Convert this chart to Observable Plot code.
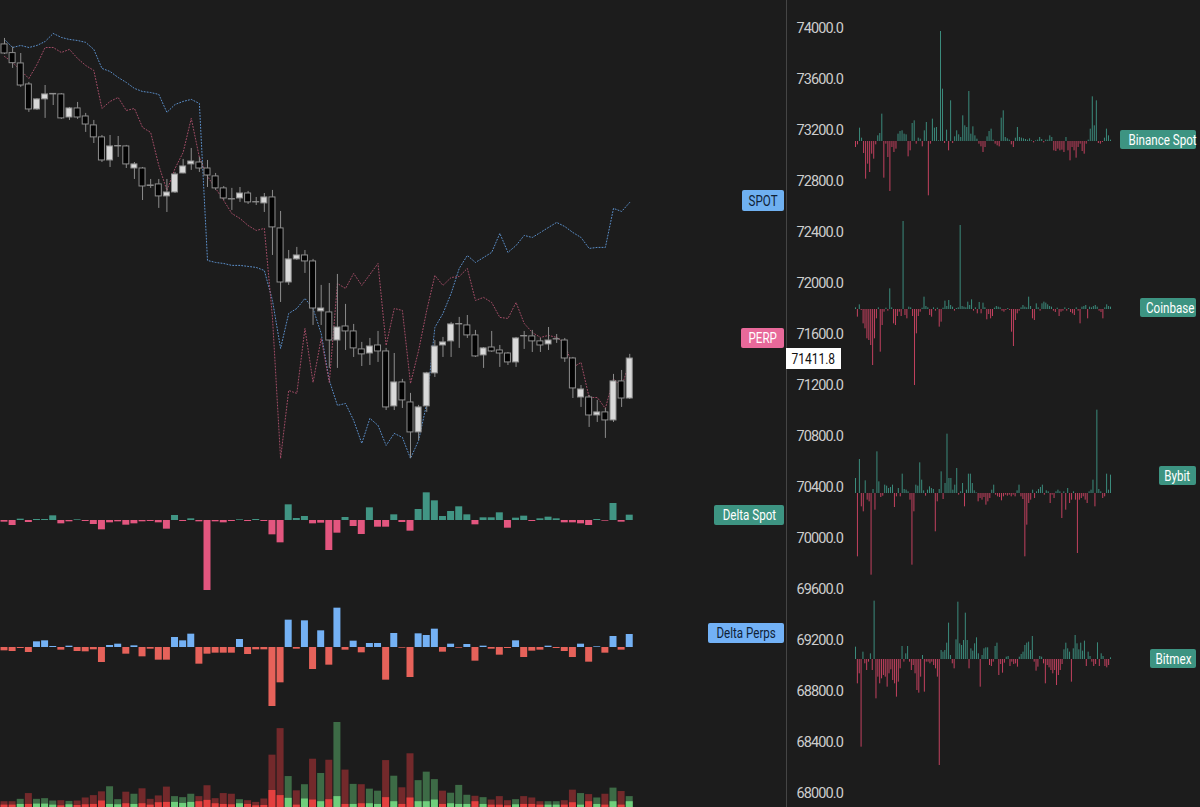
<!DOCTYPE html>
<html><head><meta charset="utf-8">
<script src="https://cdn.jsdelivr.net/npm/d3@7"></script>
<script src="https://cdn.jsdelivr.net/npm/@observablehq/plot@0.6"></script>
<style>
html,body{margin:0;padding:0;background:#1c1c1c;}
#chart{position:relative;width:1200px;height:807px;overflow:hidden;background:#1c1c1c;font-family:"Roboto",sans-serif;}
.tag{position:absolute;box-sizing:border-box;border-radius:2px;text-align:center;white-space:nowrap;overflow:visible;}
.tag span{display:inline-block;transform:scaleX(0.8);transform-origin:center;font-size:14.5px;}
</style>
</head><body><div id="chart"></div>
<script>
// ---------- data ----------
const opens = [73875,73807,73726,73561,73365,73444,73483,73483,73302,73373, 73310,73240,73146,72965,73075,73075,72902,72902,72769,72777, 72683,72714,72863,72934,72949,72902,72840,72746,72662,72667, 72706,72636,72628,72675,72432,72008,72189,72220,72173,71781, 71773,71553,71663,71624,71483,71451,71514,71467,71036,71224, 71067,70832,71036,71295,71514,71546,71679,71671,71593,71436, 71498,71475,71451,71381,71585,71585,71546,71522,71561,71553, 71412,71106,71106,70965,70989,70926,71232,71098];
const highs = [73922,73854,73804,73577,73450,73553,73490,73490,73381,73420, 73334,73279,73161,73161,73153,73083,72949,72910,72816,72816, 72816,72871,72973,73059,72989,72965,72863,72761,72746,72753, 72722,72675,72706,72730,72565,72259,72283,72259,72189,71985, 72000,72071,71836,71679,71538,71569,71624,71491,71451,71248, 71138,71044,71303,71553,71577,71695,71734,71749,71632,71498, 71624,71514,71459,71577,71624,71632,71569,71655,71600,71569, 71420,71200,71122,71083,71020,71287,71318,71444];
const lows = [73796,73687,73538,73342,73357,73295,73396,73287,73279,73287, 73185,73098,72949,72910,72989,72902,72816,72651,72746,72589, 72557,72706,72860,72887,72871,72753,72730,72651,72573,72636, 72620,72612,72557,72220,71851,71985,72181,72079,71671,71671, 71334,71334,71475,71420,71349,71357,71381,71004,71004,71020, 70628,70769,70989,71263,71420,71420,71491,71569,71420,71334, 71459,71342,71357,71342,71483,71459,71459,71475,71530,71381, 71098,71028,70871,70910,70785,70910,71028,71090];
const closes = [73804,73728,73553,73365,73444,73483,73487,73295,73373,73302, 73247,73146,72965,73075,73078,72934,72934,72761,72765,72683, 72714,72855,72918,72957,72902,72847,72746,72667,72659,72706, 72636,72638,72675,72440,72008,72189,72220,72173,71804,71804, 71553,71655,71624,71491,71444,71506,71467,71028,71224,71083, 70832,71028,71295,71506,71538,71679,71682,71593,71428,71491, 71467,71451,71381,71569,71588,71546,71514,71553,71563,71412, 71177,71169,70965,70989,70926,71232,71098,71411.8];

const spotLine = [73914,73851,73867,73851,73867,73898,73961,73930,73914,73906, 73891,73836,73687,73663,73616,73577,73530,73506,73498,73483, 73342,73404,73428,73444,73412,72181,72165,72157,72142,72142, 72134,72126,72102,71867,71491,71765,71804,71883,71804,71608, 71240,71044,71059,70926,70746,70942,70887,70730,70824,70793, 70628,70769,71059,71655,71765,71922,72118,72220,72165,72204, 72244,72393,72244,72298,72377,72361,72400,72440,72479,72447, 72400,72361,72275,72283,72283,72589,72565,72636];
const perpLine = [73781,73734,73671,73608,73718,73851,73851,73812,73836,73765, 73710,73671,73373,73428,73459,73357,73373,73224,73185,72926, 72730,72902,73028,73295,72989,72840,72746,72651,72549,72510, 72455,72416,72432,71734,70628,71161,71138,71647,71224,71569, 71224,72000,71961,72079,71985,72071,72157,71514,71804,71789, 71216,71475,71789,72063,71985,72047,72055,72118,71867,71891, 71851,71734,71726,71851,71687,71616,71577,71593,71577,71530, 71342,71381,71106,71106,71020,71255,71185,71397];

const deltaSpot = [-5,-15,4,-6,3,3,14,-10,-4,2, -3,-12,-28,-7,-4,-14,-10,-4,-3,-7, -26,15,-3,5,-4,-210,-4,-7,-3,2, -3,3,-3,-43,-67,47,6,12,-10,-8, -90,-38,9,-18,-42,38,-20,-20,17,-6, -32,33,83,59,12,27,41,17,-13,8, 8,23,-23,7,13,-3,5,10,5,-7, -7,-10,-15,3,-2,51,-5,16];
const deltaPerps = [-10,-12,-3,-15,17,20,3,-8,4,-12, -13,-7,-45,6,10,-20,5,-28,-5,-38, -38,30,20,40,-50,-20,-17,-17,-17,24, -21,-7,-7,-177,-106,82,-5,80,-66,50, -53,118,-8,19,-16,12,12,-98,42,-2, -90,41,36,55,-14,10,-2,9,-41,4, -5,-23,-3,20,-30,-11,-8,4,-3,-12, -30,10,-44,2,-17,33,-8,39];

const volume = [17,17,24,41,24,26,19,20,18,19, 28,35,46,61,23,45,39,55,24,34, 60,32,29,39,32,64,26,41,39,23, 20,15,25,154,232,91,49,67,142,100, 139,250,110,68,67,54,48,138,92,58, 158,79,104,82,48,42,65,36,33,29, 22,32,20,23,32,28,17,17,17,20, 51,41,38,28,39,57,47,32];
const volumeInner = [7,7,9,9,10,10,7,5,8,6, 8,9,19,9,8,11,9,11,7,14, 15,15,12,15,17,21,11,9,8,11, 9,5,6,50,35,27,7,25,22,17, 23,32,9,9,11,11,9,29,17,9, 28,17,17,22,9,11,9,9,17,9, 7,7,5,8,9,9,7,7,7,7, 14,7,17,9,7,17,7,17];
const volumeSide = ["s","s","b","s","b","b","b","s","b","s", "s","s","s","b","b","s","b","s","s","s", "s","b","b","b","s","s","s","s","s","b", "s","s","s","s","s","b","s","b","s","b", "s","b","s","b","s","b","b","s","b","s", "s","b","b","b","s","b","b","b","s","b", "s","s","s","b","s","s","s","b","b","s", "s","b","s","b","s","b","s","b"];

const binance = [-18,-10,40,10,-36,-113,-68,-93,-38,-53,-10,17,24,82,-110,-8,-48,-150,-18,-33,-23,22,30,32,22,20,-46,-28,54,62,-8,10,7,-16,32,57,-163,-8,67,40,42,2,330,157,-6,34,-28,122,-6,14,32,20,12,77,47,42,150,22,44,17,7,-8,-16,-33,-18,14,30,37,4,-8,-13,-16,70,92,12,8,4,-10,-18,10,42,12,10,8,6,4,8,2,-4,2,4,12,6,-4,4,4,17,12,-28,-30,-23,-28,-26,-33,12,-28,-58,-18,-28,-50,-18,-8,-30,-38,-8,4,37,134,47,122,-6,-8,-3,10,37,17,4];
const coinbase = [5,-23,14,-3,-43,-58,-88,-93,-108,-168,-88,-28,5,-128,-48,-8,4,-5,62,5,-43,-48,-21,-8,-21,264,-18,-28,7,5,-21,-228,-73,-21,-8,4,37,9,5,-18,-23,5,-5,4,-53,-38,4,25,9,27,12,7,-5,3,5,252,9,7,5,22,12,29,-5,5,-13,21,-13,19,5,-31,-15,-28,-21,4,9,7,5,-5,-8,-3,3,-3,-68,-111,-33,-13,-5,5,12,7,5,37,9,-28,-33,17,5,-5,17,22,19,14,9,7,-5,-9,4,-21,-8,-5,5,-5,3,-9,-13,-18,5,-5,-43,7,9,12,-28,7,5,9,12,7,-5,-9,-28,5,14,9,7];
const bybit = [45,-190,102,-40,-55,38,-20,-25,-245,12,-50,125,35,-12,-8,25,22,15,18,25,-42,-10,15,-10,58,12,10,5,-20,-215,-55,25,22,92,40,8,-8,10,20,15,12,-115,-25,12,65,-18,30,178,45,45,10,25,75,-5,5,30,-40,10,58,58,30,8,2,-25,-15,-20,-12,-35,-25,-15,10,25,-5,-10,-12,-22,-10,-5,-8,-5,-10,-5,-10,8,25,-10,-18,-190,-95,-30,-20,10,-15,5,12,18,25,-5,8,5,-30,-5,-15,5,10,5,-75,5,-50,15,-30,-20,5,-20,-180,-20,-15,-10,-20,-30,5,10,40,-40,250,12,5,-15,-10,58,10,55];
const bitmex = [37,-73,-43,-263,22,-13,-33,-8,17,-33,175,-118,-53,-73,-58,-48,-53,-83,-43,-31,-63,-73,-113,-68,-28,39,-8,17,39,-8,-33,-18,-43,-93,-101,-53,12,-98,-8,-8,-13,-8,-18,-28,-53,-318,27,22,27,49,109,12,-13,-28,59,172,47,42,57,139,57,-28,32,25,47,65,17,-83,12,32,35,35,-18,-21,-8,39,49,-48,-15,-41,-11,7,9,-21,-8,-15,-13,-23,7,15,22,42,49,52,27,69,-8,-35,-23,9,7,-13,-73,-18,-25,-33,-43,-33,-78,-48,-33,-15,29,49,32,22,-68,32,72,47,29,49,25,55,-21,22,9,-8,-21,-15,50,-21,17,9,-21,-25,-18,5];

const priceTicks = [74000,73600,73200,72800,72400,72000,71600,71200,70800,70400,70000,69600,69200,68800,68400,68000];
const exchanges = [
  {name:"Binance Spot", values:binance},
  {name:"Coinbase", values:coinbase},
  {name:"Bybit", values:bybit},
  {name:"Bitmex", values:bitmex}
];

// ---------- layout ----------
const W = 1200, H = 807;
const FONT = '"Roboto",sans-serif';
const chart = document.getElementById("chart");
const candleX = {domain:[0, 77], range:[4, 629.24]};

function layer(x, y, marks) {
  const svg = Plot.plot({
    width: W, height: H, margin: 0,
    style: {background: "transparent", overflow: "visible"},
    x: {type: "linear", axis: null, ...x},
    y: {type: "linear", axis: null, ...y},
    marks
  });
  svg.style.position = "absolute";
  svg.style.left = "0px";
  svg.style.top = "0px";
  chart.appendChild(svg);
  return svg;
}

const candles = opens.map((o, i) => ({i, o, h: highs[i], l: lows[i], c: closes[i]}));
const idx = a => a.map((v, i) => ({i, v}));

// price pane
const priceSvg = layer(candleX, {domain:[74000, 68000], range:[28, 793]}, [
  Plot.line(idx(spotLine), {x:"i", y:"v", stroke:"#5b8fca", strokeWidth:1, strokeDasharray:"1 2"}),
  Plot.line(idx(perpLine), {x:"i", y:"v", stroke:"#a34d67", strokeWidth:1, strokeDasharray:"1 2"}),
  Plot.ruleX(candles, {x:"i", y1:"l", y2:"h", stroke:"#8c8c8c", strokeWidth:1}),
  Plot.rect(candles, {x1:d => d.i - 0.37, x2:d => d.i + 0.37, y1:"o", y2:"c",
    fill:d => d.c >= d.o ? "#d9d9d9" : "#030303", stroke:"#8e8e8e", strokeWidth:1}),
  Plot.text(priceTicks, {y:d => d, text:d => d.toFixed(1), frameAnchor:"left", dx:796,
    textAnchor:"start", fill:"#cdcdcd", fontSize:14.5, fontFamily:FONT})
]);
priceSvg.style.letterSpacing = "-0.9px";

// delta spot
layer(candleX, {domain:[0, 300], range:[520, 420]}, [
  Plot.rect(idx(deltaSpot), {x1:d => d.i - 0.43, x2:d => d.i + 0.43, y1:0, y2:"v",
    fill:d => d.v >= 0 ? "#419584" : "#e3567f"})
]);
// delta perps
layer(candleX, {domain:[0, 300], range:[647, 547]}, [
  Plot.rect(idx(deltaPerps), {x1:d => d.i - 0.43, x2:d => d.i + 0.43, y1:0, y2:"v",
    fill:d => d.v >= 0 ? "#74b1f4" : "#e6625a"})
]);
// volume
const vol = volume.map((v, i) => ({i, v, inner: volumeInner[i], side: volumeSide[i]}));
layer(candleX, {domain:[0, 250], range:[807, 722]}, [
  Plot.rect(vol, {x1:d => d.i - 0.43, x2:d => d.i + 0.43, y1:0, y2:"v",
    fill:d => d.side === "b" ? "#3d6b46" : "#73292b"}),
  Plot.rect(vol, {x1:d => d.i - 0.43, x2:d => d.i + 0.43, y1:0, y2:"inner",
    fill:d => d.side === "b" ? "#6fcf7c" : "#e4403f"})
]);

// exchange deltas (right pane)
const baselines = [141, 309, 493, 659];
exchanges.forEach((ex, k) => {
  const b = baselines[k];
  layer({domain:[0, ex.values.length - 1], range:[855, 1110]}, {domain:[0, 300], range:[b, b - 100]}, [
    Plot.ruleX(idx(ex.values), {x:"i", y1:0, y2:"v", stroke:d => d.v >= 0 ? "#3b8b7c" : "#c2415f", strokeWidth:1})
  ]);
});

// separator
const sep = document.createElement("div");
Object.assign(sep.style, {position:"absolute", left:"786px", top:"0px", width:"1px", height:H + "px", background:"#454545"});
chart.appendChild(sep);

function tag(text, left, top, w, h, bg, color) {
  const d = document.createElement("div");
  d.className = "tag";
  const s = document.createElement("span");
  s.textContent = text;
  d.appendChild(s);
  Object.assign(d.style, {left:left + "px", top:top + "px", width:w + "px", height:h + "px", lineHeight:h + "px", background:bg, color});
  chart.appendChild(d);
  return d;
}
tag("SPOT", 742, 190, 42, 21, "#6fb0f0", "#0f2236");
tag("PERP", 741, 328, 43, 20, "#e8699a", "#ffffff");
tag("Delta Spot", 714, 505, 70, 20, "#3d9482", "#ffffff");
tag("Delta Perps", 708, 623, 76, 20, "#72b1f6", "#0f2236");
const exTags = [[1120,130,76],[1140,298,56],[1159,466,37],[1150,649,46]];
exchanges.forEach((ex, k) => tag(ex.name, exTags[k][0], exTags[k][1], exTags[k][2], 19, "#3d9482", "#ffffff"));

// last price tag, placed with the price scale
const yLast = priceSvg.scale("y").apply(closes[closes.length - 1]);
const pt = tag(closes[closes.length - 1].toFixed(1), 786, Math.round(yLast - 10), 55, 21, "#ffffff", "#111111");
pt.style.borderRadius = "0px";
pt.querySelector("span").style.fontSize = "15px";
</script>
</body></html>
